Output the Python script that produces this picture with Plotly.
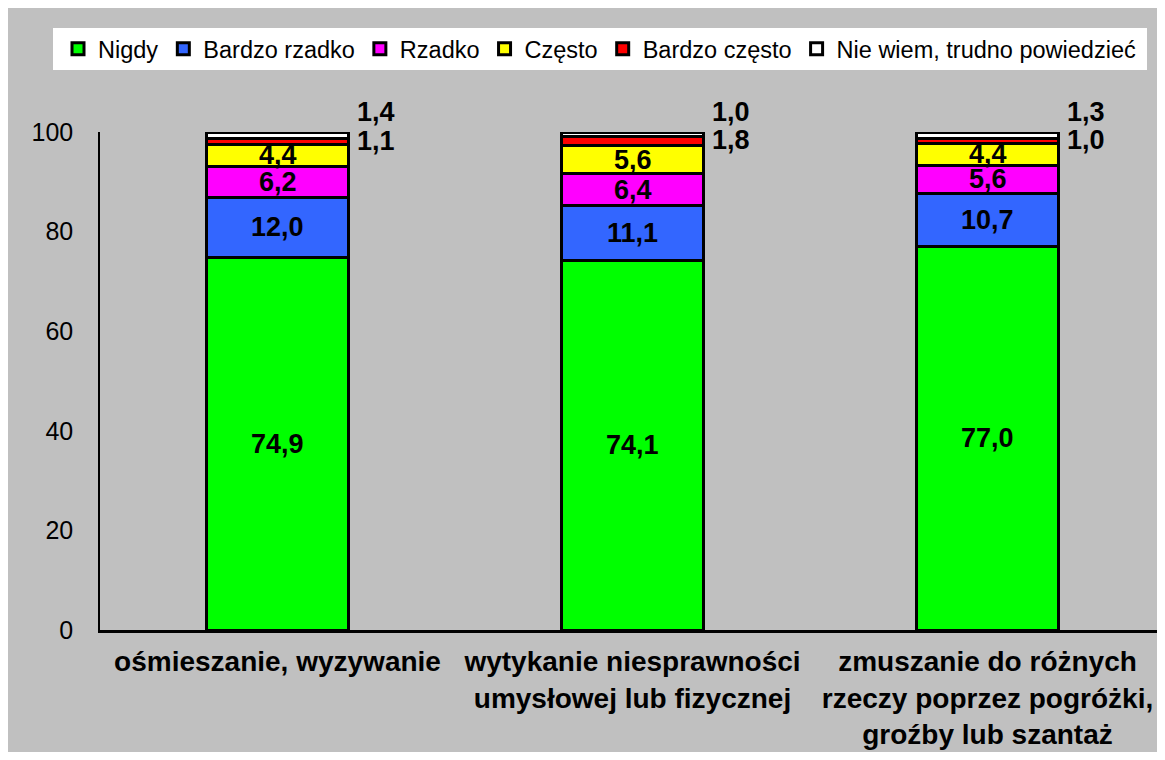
import plotly.graph_objects as go

categories = [
    "ośmieszanie, wyzywanie",
    "wytykanie niesprawności<br>umysłowej lub fizycznej",
    "zmuszanie do różnych<br>rzeczy poprzez pogróżki,<br>groźby lub szantaż",
]
series_names = ["Nigdy", "Bardzo rzadko", "Rzadko", "Często", "Bardzo często",
                "Nie wiem, trudno powiedzieć"]
nigdy = [74.9, 74.1, 77.0]
bardzo_rzadko = [12.0, 11.1, 10.7]
rzadko = [6.2, 6.4, 5.6]
czesto = [4.4, 5.6, 4.4]
bardzo_czesto = [1.1, 1.8, 1.0]
nie_wiem = [1.4, 1.0, 1.3]
series_values = [nigdy, bardzo_rzadko, rzadko, czesto, bardzo_czesto, nie_wiem]
colors = ["#00FF00", "#3366FF", "#FF00FF", "#FFFF00", "#FF0000", "#FFFFFF"]
y_ticks = [0, 20, 40, 60, 80, 100]

FONT = "Arial, Liberation Sans, sans-serif"
fig = go.Figure()
for name, vals, col in zip(series_names, series_values, colors):
    fig.add_trace(go.Bar(
        x=categories, y=vals, name=name,
        marker=dict(color=col, line=dict(color="black", width=3)),
        width=0.4,
    ))

def fmt(v):
    return f"{v:.1f}".replace(".", ",")

lab_font = dict(size=27, color="black", family=FONT, weight="bold")
annotations = []
for i, cat in enumerate(categories):
    cum = 0.0
    for s, vals in enumerate(series_values):
        v = vals[i]
        mid = cum + v / 2
        if s < 4:
            annotations.append(dict(x=cat, y=mid, text=fmt(v), showarrow=False,
                                    xref="x", yref="y", yanchor="middle", font=lab_font))
        elif s == 4:
            annotations.append(dict(x=cat, y=mid, text=fmt(v), showarrow=False,
                                    xref="x", yref="y", yanchor="middle", xshift=98, yshift=1,
                                    font=lab_font))
        else:
            annotations.append(dict(x=cat, y=min(round(cum + v, 6), 100), text=fmt(v),
                                    showarrow=False, xref="x", yref="y", yanchor="bottom",
                                    xshift=98, yshift=3, font=lab_font))
        cum += v

W, H = 1157, 744
ml, mr, mt, mb = 92, 0, 124, 122
pw = W - ml - mr
ph = H - mt - mb

def px_x(p):
    return (p - ml) / pw

def px_y(p):
    return (H - mb - p) / ph

shapes = [
    dict(type="rect", xref="paper", yref="paper", layer="below",
         x0=px_x(45), x1=px_x(1139), y0=px_y(62), y1=px_y(20),
         fillcolor="white", line=dict(width=0)),
]

fig.update_layout(
    barmode="stack",
    width=W, height=H,
    margin=dict(l=ml, r=mr, t=mt, b=mb, pad=0),
    paper_bgcolor="#C0C0C0",
    plot_bgcolor="#C0C0C0",
    font=dict(family=FONT, color="black"),
    showlegend=True,
    legend=dict(orientation="h", x=px_x(50), xanchor="left", y=px_y(41), yanchor="middle",
                bgcolor="rgba(0,0,0,0)", font=dict(size=23.5, family=FONT),
                itemwidth=30, traceorder="normal"),
    shapes=shapes,
    annotations=annotations,
    bargap=0.6,
)
fig.update_yaxes(range=[0, 100], tickvals=y_ticks, showgrid=False, zeroline=False,
                 showline=True, linecolor="black", linewidth=1.5, ticks="",
                 tickfont=dict(size=25, family=FONT), ticklabelstandoff=20)
fig.update_xaxes(showgrid=False, showline=True, linecolor="black", linewidth=2.5, ticks="",
                 tickfont=dict(size=28, family=FONT, weight="bold"), ticklabelstandoff=5,
                 range=[-0.5, 2.5])

fig.write_html("out.html")
